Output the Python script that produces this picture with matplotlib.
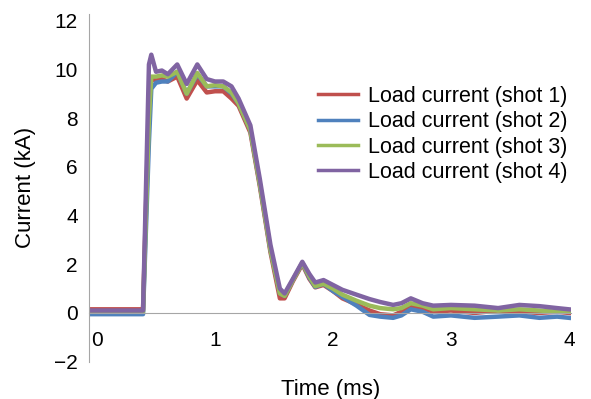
import matplotlib
matplotlib.use("Agg")
import matplotlib.pyplot as plt

plt.rcParams['font.family'] = ['Liberation Sans', 'DejaVu Sans']

# time grid (ms) shared by the four shots
t_ms = [-0.07, 0.1, 0.2, 0.3, 0.39, 0.44, 0.46, 0.50, 0.55, 0.60, 0.68, 0.76,
        0.85, 0.93, 1.00, 1.07, 1.14, 1.20, 1.30, 1.38, 1.47, 1.55, 1.59, 1.66,
        1.74, 1.80, 1.85, 1.92, 2.00, 2.08, 2.20, 2.31, 2.40, 2.51, 2.58, 2.66,
        2.76, 2.85, 3.00, 3.20, 3.40, 3.58, 3.75, 3.90, 4.00]

shot1 = [0.15, 0.15, 0.15, 0.15, 0.15, 8.5, 9.6, 9.55, 9.6, 9.5, 9.7, 8.8,
         9.55, 9.05, 9.1, 9.1, 8.8, 8.5, 7.4, 5.2, 2.5, 0.6, 0.6, 1.3,
         2.0, 1.4, 1.05, 1.15, 0.9, 0.6, 0.35, 0.1, -0.05, -0.1, 0.05, 0.3,
         0.2, 0.05, 0.1, 0.0, 0.1, 0.05, 0.0, 0.05, 0.0]
shot2 = [-0.05, -0.05, -0.05, -0.05, -0.05, 7.0, 9.2, 9.45, 9.5, 9.5, 9.9, 9.0,
         9.8, 9.3, 9.3, 9.3, 9.0, 8.6, 7.5, 5.3, 2.6, 0.8, 0.7, 1.35,
         2.05, 1.45, 1.07, 1.2, 0.9, 0.66, 0.3, -0.08, -0.15, -0.2, -0.1, 0.15,
         0.05, -0.15, -0.1, -0.2, -0.15, -0.1, -0.2, -0.15, -0.2]
shot3 = [0.05, 0.05, 0.05, 0.05, 0.05, 8.0, 9.7, 9.7, 9.75, 9.7, 9.9, 9.0,
         9.85, 9.3, 9.35, 9.3, 9.05, 8.6, 7.5, 5.3, 2.6, 0.8, 0.7, 1.35,
         2.05, 1.5, 1.1, 1.2, 1.0, 0.75, 0.5, 0.3, 0.2, 0.15, 0.2, 0.4,
         0.3, 0.15, 0.2, 0.15, 0.1, 0.15, 0.1, 0.05, 0.05]
shot4 = [0.1, 0.1, 0.1, 0.1, 0.1, 10.2, 10.6, 9.9, 9.95, 9.8, 10.2, 9.4,
         10.2, 9.6, 9.5, 9.5, 9.3, 8.8, 7.7, 5.5, 2.8, 1.0, 0.8, 1.4,
         2.1, 1.6, 1.25, 1.35, 1.15, 0.95, 0.75, 0.57, 0.45, 0.33, 0.4, 0.6,
         0.4, 0.3, 0.33, 0.3, 0.2, 0.33, 0.28, 0.2, 0.15]

labels = ['Load current (shot 1)', 'Load current (shot 2)',
          'Load current (shot 3)', 'Load current (shot 4)']
colors = ['#C0504D', '#4F81BD', '#9BBB59', '#8064A2']

fig = plt.figure(figsize=(5.91, 3.99), dpi=100)
ax = fig.add_axes([0.1506, 0.0935, 0.816, 0.8714])

for y, lab, c in zip([shot1, shot2, shot3, shot4], labels, colors):
    ax.plot(t_ms, y, color=c, lw=3.2, label=lab, solid_joinstyle='round')

ax.set_xlim(-0.068, 4.02)
ax.set_ylim(-2, 12.27)
ax.set_xticks([0, 1, 2, 3, 4])
ax.set_yticks(range(-2, 13, 2))

for s in ['top', 'right']:
    ax.spines[s].set_visible(False)
ax.spines['left'].set_color('#a6a6a6')
ax.spines['bottom'].set_color('#a6a6a6')
ax.spines['bottom'].set_position(('data', 0))
ax.tick_params(axis='both', length=0, labelsize=15)
ax.tick_params(axis='y', pad=8)
ax.tick_params(axis='x', pad=13)

ax.set_xlabel('Time (ms)', fontsize=16)
ax.set_ylabel('Current (kA)', fontsize=16)
ax.xaxis.set_label_coords(0.5, -0.049)
ax.yaxis.set_label_coords(-0.11, 0.5)

leg = fig.legend(loc='upper left', bbox_to_anchor=(318 / 591, 1 - 86 / 399),
                 frameon=False, fontsize=15.5, handlelength=1.85,
                 handletextpad=0.45, labelspacing=0.2, borderpad=0,
                 borderaxespad=0)
for h in leg.get_lines():
    h.set_linewidth(2.5)

fig.savefig('out.png', dpi=100)
